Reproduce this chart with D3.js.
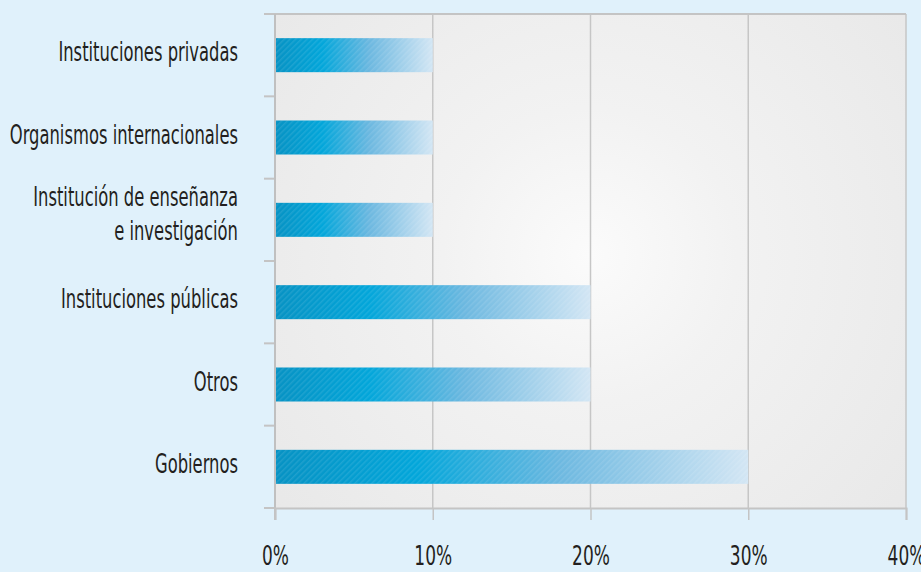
<!DOCTYPE html>
<html>
<head>
<meta charset="utf-8">
<style>
  body { margin: 0; background: #e0f1fb; }
  svg { display: block; }
  .lbl { font-family: "DejaVu Sans Condensed", "Liberation Sans Narrow", sans-serif; font-size: 26px; fill: #231f20; }
</style>
<script src="https://d3js.org/d3.v7.min.js"></script>
</head>
<body>
<svg id="chart" width="921" height="572"></svg>
<script>
// data, top to bottom
var categories = ["Instituciones privadas", "Organismos internacionales", "Institución de enseñanza\ne investigación", "Instituciones públicas", "Otros", "Gobiernos"];
var values = [10, 10, 10, 20, 20, 30];
var tickValues = [0, 10, 20, 30, 40];

var svg = d3.select('#chart');
var margin = {top: 14, left: 275, right: 15, bottom: 64},
    width = +svg.attr('width'), height = +svg.attr('height');
var squeeze = 0.7; // condensed look of the original type

var x = d3.scaleLinear().domain([0, 40]).range([margin.left, width - margin.right]);
var y = d3.scaleBand().domain(categories).range([margin.top, height - margin.bottom])
    .paddingInner(0.587).paddingOuter(0.2935);

var defs = svg.append('defs');
// plot background with soft glow
var bg = defs.append('radialGradient').attr('id', 'bgGlow')
    .attr('gradientUnits', 'userSpaceOnUse').attr('cx', 590).attr('cy', 255).attr('r', 420);
bg.append('stop').attr('offset', '0').attr('stop-color', '#fbfbfb');
bg.append('stop').attr('offset', '0.35').attr('stop-color', '#f2f2f2');
bg.append('stop').attr('offset', '1').attr('stop-color', '#e8e8e8');

var bar = defs.append('linearGradient').attr('id', 'barGrad');
bar.append('stop').attr('offset', '0').attr('stop-color', '#0792c3');
bar.append('stop').attr('offset', '0.3').attr('stop-color', '#02a6da');
bar.append('stop').attr('offset', '0.6').attr('stop-color', '#6cb8e0');
bar.append('stop').attr('offset', '1').attr('stop-color', '#d3e6f4');

var pat = defs.append('pattern').attr('id', 'stripes').attr('patternUnits', 'userSpaceOnUse')
    .attr('width', 4).attr('height', 4).attr('patternTransform', 'rotate(45)');
pat.append('rect').attr('width', 1.5).attr('height', 4).attr('fill', 'rgba(255,255,255,0.1)');

var x0 = x(0), x1 = x(40), y0 = margin.top, y1 = height - margin.bottom;

svg.append('rect').attr('x', x0).attr('y', y0).attr('width', x1 - x0).attr('height', y1 - y0)
    .attr('fill', 'url(#bgGlow)');

// vertical gridlines
svg.append('g').selectAll('line').data(tickValues.slice(1)).join('line')
    .attr('x1', d => x(d)).attr('x2', d => x(d)).attr('y1', y0).attr('y2', y1)
    .attr('stroke', '#c6c6c6').attr('stroke-width', 1.5);

// top border
svg.append('line').attr('x1', 264).attr('x2', x1).attr('y1', y0).attr('y2', y0)
    .attr('stroke', '#c4c4c4').attr('stroke-width', 2);

// bars
var bars = svg.append('g');
bars.selectAll('rect.b').data(values).join('rect').attr('class', 'b')
    .attr('x', x0).attr('y', (d, i) => y(categories[i]))
    .attr('width', d => x(d) - x0).attr('height', y.bandwidth())
    .attr('fill', 'url(#barGrad)');
bars.selectAll('rect.s').data(values).join('rect').attr('class', 's')
    .attr('x', x0).attr('y', (d, i) => y(categories[i]))
    .attr('width', d => x(d) - x0).attr('height', y.bandwidth())
    .attr('fill', 'url(#stripes)');

// left axis with ticks at band boundaries
var step = y.step();
var bounds = d3.range(categories.length + 1).map(i => y0 + i * step);
svg.append('g').selectAll('line').data(bounds).join('line')
    .attr('x1', 264).attr('x2', x0).attr('y1', d => d).attr('y2', d => d)
    .attr('stroke', '#c4c4c4').attr('stroke-width', 2);
svg.append('line').attr('x1', x0).attr('x2', x0).attr('y1', y0).attr('y2', y1 + 12)
    .attr('stroke', '#c0c0c0').attr('stroke-width', 2);

// bottom axis
var xAxis = d3.axisBottom(x).tickValues(tickValues).tickSize(12).tickFormat(d => d + '%');
var gx = svg.append('g').attr('transform', 'translate(0,' + y1 + ')').call(xAxis);
gx.select('.domain').attr('stroke', '#c4c4c4').attr('stroke-width', 2);
gx.selectAll('.tick line').attr('stroke', '#c4c4c4').attr('stroke-width', 1.5);
gx.selectAll('.tick text').attr('class', 'lbl').attr('y', 0).attr('dy', 0)
    .attr('transform', 'translate(0,57) scale(' + squeeze + ',1)')
    .style('font-family', '"DejaVu Sans Condensed", "Liberation Sans Narrow", sans-serif')
    .style('font-size', '27px').attr('fill', '#231f20');

// category labels
var labels = svg.append('g').selectAll('text').data(categories).join('text')
    .attr('class', 'lbl').attr('text-anchor', 'end')
    .attr('transform', d => 'translate(238,' + (y(d) + y.bandwidth() / 2 - 3) + ') scale(' + squeeze + ',1)');
labels.each(function(d) {
    var lines = d.split('\n');
    var t = d3.select(this);
    lines.forEach(function(l, i) {
        t.append('tspan').attr('x', 0)
            .attr('dy', i === 0 ? (0.35 - (lines.length - 1) * 0.75) + 'em' : '1.3em')
            .text(l);
    });
});
</script>
</body>
</html>
